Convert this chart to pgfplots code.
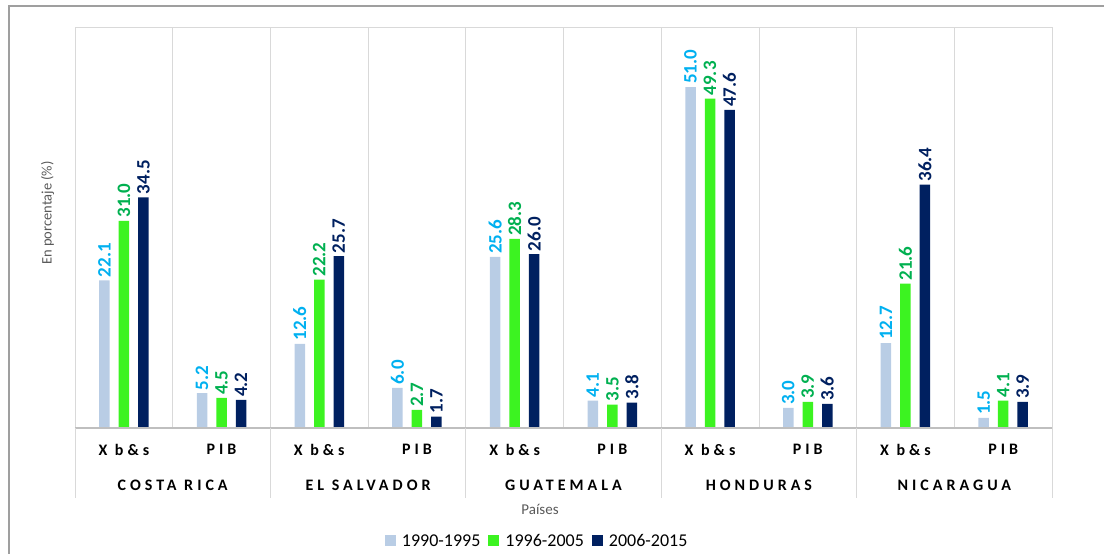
\documentclass[border=0pt]{standalone}
\usepackage{pgfplots}
\pgfplotsset{compat=1.18}
\usepackage{fontspec}
\setmainfont{Carlito}
\newfontfamily\spaced[LetterSpace=25]{Carlito}
\definecolor{cLight}{HTML}{B9CDE5}
\definecolor{cGreen}{HTML}{3CF321}
\definecolor{cNavy}{HTML}{002060}
\definecolor{tLight}{HTML}{00B0F0}
\definecolor{tGreen}{HTML}{00B050}
\definecolor{tNavy}{HTML}{002060}
\definecolor{gridc}{HTML}{D9D9D9}
\definecolor{txtgray}{HTML}{595959}
\begin{document}
\begin{tikzpicture}
\path[use as bounding box] (0,0) rectangle (1104pt,554pt);
\draw[gray!75, line width=2pt] (9pt,0) -- (9pt,548pt) -- (1104pt,548pt);
\begin{axis}[
  at={(75pt,126pt)}, anchor=south west,
  scale only axis, width=977pt, height=401pt,
  ymin=0, ymax=60, xmin=-0.5, xmax=9.5,
  ybar=9pt, bar width=10.5pt,
  xtick={0,...,9},
  xticklabels={X b\&s,PIB,X b\&s,PIB,X b\&s,PIB,X b\&s,PIB,X b\&s,PIB},
  xticklabel style={font=\spaced\bfseries\fontsize{16}{19}\selectfont, yshift=-13pt},
  extra x ticks={0.5,1.5,...,8.5},
  extra x tick labels={},
  extra x tick style={grid=major, major grid style={draw=gridc, line width=0.8pt}},
  ytick=\empty,
  major tick length=0pt,
  axis line style={draw=gridc, line width=0.8pt},
  xlabel={Países},
  xlabel style={at={(rel axis cs:0.476,-0.202)}, anchor=center, font=\fontsize{15}{18}\selectfont, text=txtgray},
  ylabel={En porcentaje (\%)},
  ylabel style={at={(rel axis cs:-0.028,0.536)}, anchor=center, font=\fontsize{14.5}{17}\selectfont, text=txtgray},
  nodes near coords,
  point meta=y,
  nodes near coords style={rotate=90, anchor=west, inner sep=3pt, font=\bfseries\fontsize{19}{22}\selectfont,
    /pgf/number format/fixed, /pgf/number format/fixed zerofill, /pgf/number format/precision=1,
    /pgf/number format/assume math mode=true},
  legend style={at={(rel axis cs:0.473,-0.282)}, anchor=center, draw=none, fill=none,
    font=\fontsize{18}{21}\selectfont, legend columns=3,
    /tikz/every odd column/.append style={column sep=4pt},
    /tikz/every even column/.append style={column sep=6pt}},
  legend image code/.code={\fill[#1] (0pt,-5pt) rectangle (11pt,6pt);},
  clip=false,
]
\addplot[fill=cLight, draw=none, every node near coord/.append style={text=tLight}] coordinates {
  (0,22.1) (1,5.2) (2,12.6) (3,6.0) (4,25.6) (5,4.1) (6,51.0) (7,3.0) (8,12.7) (9,1.5)};
\addplot[fill=cGreen, draw=none, every node near coord/.append style={text=tGreen}] coordinates {
  (0,31.0) (1,4.5) (2,22.2) (3,2.7) (4,28.3) (5,3.5) (6,49.3) (7,3.9) (8,21.6) (9,4.1)};
\addplot[fill=cNavy, draw=none, every node near coord/.append style={text=tNavy}] coordinates {
  (0,34.5) (1,4.2) (2,25.7) (3,1.7) (4,26.0) (5,3.8) (6,47.6) (7,3.6) (8,36.4) (9,3.9)};
\legend{1990-1995,1996-2005,2006-2015}
\draw[gray!50, line width=1.2pt] (rel axis cs:0,0) -- (rel axis cs:1,0);
\pgfplotsinvokeforeach{-0.5,1.5,3.5,5.5,7.5,9.5}{
  \draw[gridc, line width=0.8pt] (axis cs:#1,0) -- ++(0pt,-70pt);
}
\node[font=\spaced\bfseries\fontsize{16}{19}\selectfont] at ([yshift=-57pt]axis cs:0.5,0) {COSTA RICA};
\node[font=\spaced\bfseries\fontsize{16}{19}\selectfont] at ([yshift=-57pt]axis cs:2.5,0) {EL SALVADOR};
\node[font=\spaced\bfseries\fontsize{16}{19}\selectfont] at ([yshift=-57pt]axis cs:4.5,0) {GUATEMALA};
\node[font=\spaced\bfseries\fontsize{16}{19}\selectfont] at ([yshift=-57pt]axis cs:6.5,0) {HONDURAS};
\node[font=\spaced\bfseries\fontsize{16}{19}\selectfont] at ([yshift=-57pt]axis cs:8.5,0) {NICARAGUA};
\end{axis}
\end{tikzpicture}
\end{document}
